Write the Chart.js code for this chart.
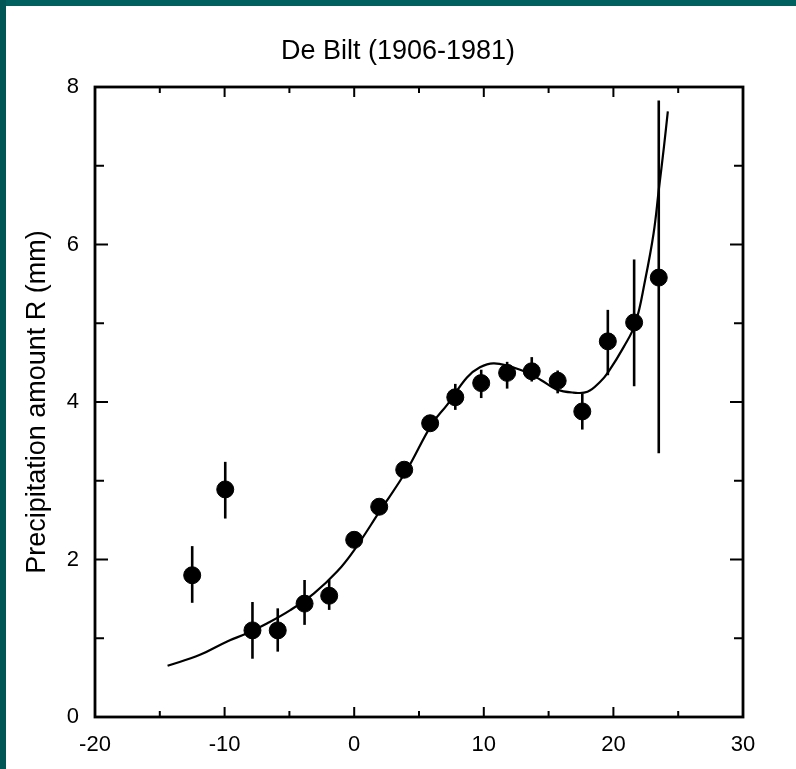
<!DOCTYPE html>
<html>
<head>
<meta charset="utf-8">
<script src="https://cdn.jsdelivr.net/npm/chart.js@4/dist/chart.umd.min.js"></script>
<style>
  html,body{margin:0;padding:0;background:#fff;overflow:hidden}
  #wrap{position:absolute;left:0;top:0;width:796px;height:769px}
  .band{position:absolute;background:#005f5f;z-index:2}
</style>
</head>
<body>
<div id="wrap"><canvas id="c" width="796" height="769"></canvas></div>
<div class="band" style="left:0;top:0;width:796px;height:6px"></div>
<div class="band" style="left:0;top:0;width:6px;height:769px;background:#005555"></div>
<script>
// temperature (deg C) vs mean precipitation
const ptX = [-12.5,-9.95,-7.85,-5.9,-3.83,-1.93,0,1.93,3.86,5.86,7.8,9.8,11.8,13.7,15.7,17.6,19.57,21.6,23.5];
const ptY = [1.80,2.89,1.10,1.10,1.44,1.54,2.25,2.67,3.14,3.73,4.06,4.24,4.37,4.39,4.27,3.88,4.77,5.01,5.58];
const errHi = [2.17,3.24,1.46,1.38,1.74,1.74,2.30,2.72,3.20,3.80,4.23,4.41,4.51,4.57,4.40,4.11,5.17,5.81,7.83];
const errLo = [1.45,2.52,0.74,0.83,1.17,1.36,2.20,2.62,3.08,3.66,3.90,4.05,4.17,4.26,4.11,3.65,4.34,4.20,3.35];
// fitted curve
const curveX = [-14.4,-11.9,-9.8,-8.3,-6.7,-4.9,-3.1,-1.3,0,2,4,6,7.2,8.7,9.7,10.8,12.8,14.4,15.6,16.9,18.0,19.0,19.6,20.8,21.7,22.45,23.1,23.5,23.9,24.2];
const curveY = [0.65,0.79,0.96,1.06,1.19,1.36,1.57,1.85,2.12,2.62,3.12,3.72,3.97,4.31,4.44,4.49,4.41,4.28,4.16,4.12,4.13,4.26,4.38,4.70,5.00,5.55,6.14,6.69,7.24,7.69];
const xMajor = [-10,0,10,20], xMinor = [-15,-5,5,15,25];
const yMajor = [2,4,6], yMinor = [1,3,5,7];
const titleText = 'De Bilt (1906-1981)';

const FONT = "'Liberation Sans', Arial, Helvetica, sans-serif";

const framePlugin = {
  id:'frame',
  afterDatasetsDraw(chart){
    const {ctx, chartArea:a, scales:{x,y}} = chart;
    ctx.save();
    ctx.strokeStyle='#000';
    ctx.lineWidth=2.6;
    ptX.forEach((v,i)=>{
      const px=x.getPixelForValue(v);
      ctx.beginPath();ctx.moveTo(px,y.getPixelForValue(errLo[i]));ctx.lineTo(px,y.getPixelForValue(errHi[i]));ctx.stroke();
    });
    ctx.lineWidth=2.8;
    ctx.strokeRect(a.left,a.top,a.right-a.left,a.bottom-a.top);
    ctx.lineWidth=2;
    const tx=(v,len)=>{const p=x.getPixelForValue(v);
      ctx.beginPath();ctx.moveTo(p,a.bottom);ctx.lineTo(p,a.bottom-len);ctx.moveTo(p,a.top);ctx.lineTo(p,a.top+len);ctx.stroke();};
    const ty=(v,len)=>{const p=y.getPixelForValue(v);
      ctx.beginPath();ctx.moveTo(a.left,p);ctx.lineTo(a.left+len,p);ctx.moveTo(a.right,p);ctx.lineTo(a.right-len,p);ctx.stroke();};
    xMajor.forEach(v=>tx(v,10)); xMinor.forEach(v=>tx(v,6));
    yMajor.forEach(v=>ty(v,13)); yMinor.forEach(v=>ty(v,9));
    // title, set a little left of the plot centre as in the figure
    ctx.fillStyle='#000';ctx.font='27px '+FONT;ctx.textAlign='center';ctx.textBaseline='middle';
    ctx.fillText(titleText,398,52);
    ctx.restore();
  }
};

new Chart(document.getElementById('c'),{
  type:'scatter',
  data:{datasets:[
    {type:'line',data:curveX.map((v,i)=>({x:v,y:curveY[i]})),borderColor:'#000',borderWidth:2.2,
      pointRadius:0,tension:0.4,fill:false,order:2},
    {data:ptX.map((v,i)=>({x:v,y:ptY[i]})),backgroundColor:'#000',borderColor:'#000',pointRadius:8.5,
      pointHoverRadius:8.5,order:1}
  ]},
  options:{
    responsive:false,animation:false,
    layout:{padding:{left:0,right:53,top:87,bottom:0}},
    plugins:{legend:{display:false},tooltip:{enabled:false},title:{display:false}},
    scales:{
      x:{type:'linear',min:-20,max:30,
        afterFit(s){s.height=52;},
        grid:{display:false},border:{display:false},
        ticks:{stepSize:10,color:'#000',padding:7,font:{family:FONT,size:22},maxRotation:0}},
      y:{type:'linear',min:0,max:8,
        afterFit(s){s.width=95;},
        grid:{display:false},border:{display:false},
        ticks:{stepSize:2,color:'#000',padding:8,font:{family:FONT,size:22}},
        title:{display:true,text:'Precipitation amount R (mm)',color:'#000',
          font:{family:FONT,size:27},padding:{top:21,bottom:0}}}
    }
  },
  plugins:[framePlugin]
});
</script>
</body>
</html>
